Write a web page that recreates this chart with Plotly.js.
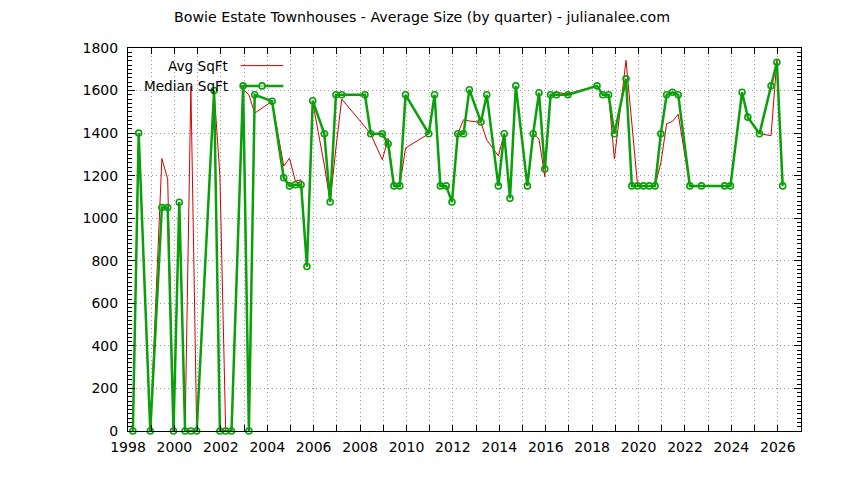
<!DOCTYPE html>
<html>
<head>
<meta charset="utf-8">
<script src="https://cdn.plot.ly/plotly-3.0.1.min.js"></script>
<style>
  html, body { margin: 0; padding: 0; background: #fff; }
  #chart { width: 844px; height: 480px; }
</style>
</head>
<body>
<div id="chart"></div>
<script>
// quarter positions, as decimal years
const quarters = [
    1998.21, 1998.46, 1998.96, 1999.46, 1999.71, 1999.96, 2000.21, 2000.46, 2000.71, 2000.96,
    2001.71, 2001.96, 2002.21, 2002.46, 2002.96, 2003.21, 2003.46, 2004.21, 2004.71, 2004.96,
    2005.21, 2005.46, 2005.71, 2005.96, 2006.46, 2006.71, 2006.96, 2007.21, 2008.21, 2008.46,
    2008.96, 2009.21, 2009.46, 2009.71, 2009.96, 2010.96, 2011.21, 2011.46, 2011.71, 2011.96,
    2012.21, 2012.46, 2012.71, 2013.21, 2013.46, 2013.96, 2014.21, 2014.46, 2014.71, 2015.21,
    2015.46, 2015.71, 2015.96, 2016.21, 2016.46, 2016.96, 2018.21, 2018.46, 2018.71, 2018.96,
    2019.46, 2019.71, 2019.96, 2020.21, 2020.46, 2020.71, 2020.96, 2021.21, 2021.46, 2021.71,
    2022.21, 2022.71, 2023.71, 2023.96, 2024.46, 2024.71, 2025.21, 2025.71, 2025.96, 2026.21
];

const avgSqft = [
    0, 1400, 0, 1280, 1185, 0, 1075, 0, 1620, 0,
    1600, 1200, 0, 0, 1605, 1580, 1494, 1550, 1245, 1282,
    1175, 1180, 773, 1545, 1250, 1076, 1330, 1560, 1430, 1395,
    1275, 1375, 1152, 1152, 1330, 1397, 1580, 1152, 1152, 1076,
    1397, 1463, 1457, 1450, 1367, 1293, 1397, 1094, 1622, 1152,
    1397, 1372, 1195, 1580, 1591, 1585, 1622, 1580, 1580, 1278,
    1742, 1440, 1152, 1152, 1152, 1152, 1260, 1444, 1455, 1489,
    1152, 1152, 1152, 1152, 1592, 1475, 1397, 1388, 1742, 1152
];

const medianSqft = [
    0, 1400, 0, 1050, 1050, 0, 1075, 0, 0, 0,
    1600, 0, 0, 0, 1622, 0, 1580, 1550, 1190, 1152,
    1157, 1157, 773, 1552, 1397, 1076, 1580, 1580, 1580, 1397,
    1397, 1350, 1152, 1152, 1580, 1397, 1580, 1152, 1152, 1076,
    1397, 1397, 1604, 1452, 1580, 1152, 1397, 1094, 1622, 1152,
    1397, 1590, 1231, 1580, 1580, 1580, 1622, 1580, 1580, 1397,
    1655, 1152, 1152, 1152, 1152, 1152, 1397, 1580, 1592, 1580,
    1152, 1152, 1152, 1152, 1592, 1475, 1397, 1622, 1733, 1152
];

const xTickVals = [1998, 2000, 2002, 2004, 2006, 2008, 2010, 2012, 2014, 2016, 2018, 2020, 2022, 2024, 2026];
const xTickText = ['1998', '2000', '2002', '2004', '2006', '2008', '2010', '2012', '2014', '2016', '2018', '2020', '2022', '2024', '2026'];
const yTickVals = [0, 200, 400, 600, 800, 1000, 1200, 1400, 1600, 1800];

const red = '#d40000';
const green = '#0aa00a';
const gridColor = '#999999';
const gridDash = '1px,3px';
const font = 'DejaVu Sans, sans-serif';

const avgTrace = {
    x: quarters,
    y: avgSqft,
    type: 'scatter',
    mode: 'lines',
    line: {color: red, width: 1},
    hoverinfo: 'skip'
};

const medianTrace = {
    x: quarters,
    y: medianSqft,
    type: 'scatter',
    mode: 'lines+markers',
    line: {color: green, width: 2.5},
    marker: {symbol: 'circle-open', size: 6, color: green, line: {width: 1.6}},
    cliponaxis: false,
    hoverinfo: 'skip'
};

// gnuplot style key: text on the left, sample on the right
const keyY1 = 0.954;
const keyY2 = 0.901;
const keyTextX = 0.152;
const keyLineX0 = 0.1675;
const keyLineX1 = 0.2308;

const layout = {
    width: 844,
    height: 480,
    paper_bgcolor: '#ffffff',
    plot_bgcolor: '#ffffff',
    showlegend: false,
    margin: {l: 128, r: 43, t: 48, b: 49},
    font: {family: font, size: 14, color: '#000'},
    title: {
        text: 'Bowie Estate Townhouses - Average Size (by quarter) - julianalee.com',
        font: {family: font, size: 14.2, color: '#000'},
        x: 0.5,
        xanchor: 'center',
        y: 0.965,
        yanchor: 'middle'
    },
    xaxis: {
        range: [1998, 2027],
        tickvals: xTickVals,
        ticktext: xTickText,
        ticks: 'inside',
        ticklen: 6,
        tickcolor: '#000',
        tickfont: {family: font, size: 14},
        showline: true,
        linecolor: '#000',
        linewidth: 1,
        mirror: 'allticks',
        showgrid: true,
        gridcolor: gridColor,
        griddash: gridDash,
        gridwidth: 1,
        zeroline: false,
        ticklabelstandoff: 3,
        minor: {
            dtick: 1,
            tick0: 1998,
            ticks: 'inside',
            ticklen: 6,
            tickcolor: '#000',
            showgrid: true,
            gridcolor: gridColor,
            griddash: gridDash,
            gridwidth: 1
        }
    },
    yaxis: {
        range: [0, 1800],
        tickvals: yTickVals,
        ticks: 'inside',
        ticklen: 7,
        tickcolor: '#000',
        tickfont: {family: font, size: 14},
        showline: true,
        linecolor: '#000',
        linewidth: 1,
        mirror: 'allticks',
        showgrid: true,
        gridcolor: gridColor,
        griddash: gridDash,
        gridwidth: 1,
        zeroline: false,
        ticklabelstandoff: 6,
        minor: {
            dtick: 20,
            ticks: 'inside',
            ticklen: 4,
            tickcolor: '#000',
            showgrid: false
        }
    },
    annotations: [
        {text: 'Avg SqFt', xref: 'paper', yref: 'paper', x: keyTextX, y: keyY1,
         xanchor: 'right', yanchor: 'middle', showarrow: false, font: {family: font, size: 13.6}},
        {text: 'Median SqFt', xref: 'paper', yref: 'paper', x: keyTextX, y: keyY2,
         xanchor: 'right', yanchor: 'middle', showarrow: false, font: {family: font, size: 13.6}}
    ],
    shapes: [
        {type: 'line', xref: 'paper', yref: 'paper', x0: keyLineX0, x1: keyLineX1, y0: keyY1, y1: keyY1,
         line: {color: red, width: 1}},
        {type: 'line', xref: 'paper', yref: 'paper', x0: keyLineX0, x1: keyLineX1, y0: keyY2, y1: keyY2,
         line: {color: green, width: 2.5}},
        {type: 'circle', xref: 'paper', yref: 'paper', xsizemode: 'pixel', ysizemode: 'pixel',
         xanchor: (keyLineX0 + keyLineX1) / 2, yanchor: keyY2, x0: -3, x1: 3, y0: -3, y1: 3,
         line: {color: green, width: 1.6}, fillcolor: 'rgba(255,255,255,0.6)'}
    ]
};

Plotly.newPlot('chart', [avgTrace, medianTrace], layout, {displayModeBar: false, staticPlot: true});
</script>
</body>
</html>
